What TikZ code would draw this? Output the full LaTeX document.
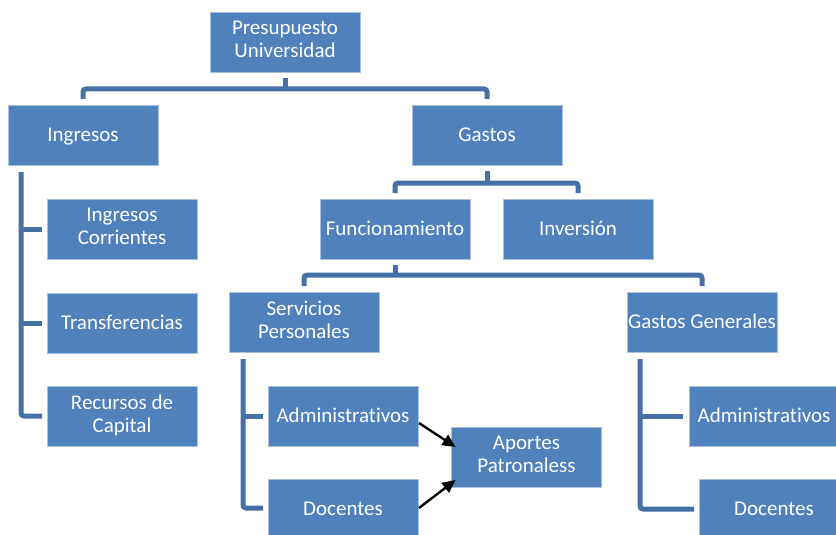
\documentclass[tikz,border=0pt]{standalone}
\usepackage{fontspec}
\setmainfont{Carlito}[Ligatures=NoCommon]
\usetikzlibrary{calc,arrows.meta}
\definecolor{boxblue}{HTML}{4F81BD}
\definecolor{boxedge}{HTML}{A9C1DF}
\definecolor{lineblue}{HTML}{4571A7}
\newcommand{\topstrut}{\rule{0pt}{18.5pt}}
\newcommand{\botstrut}{\rule[-5pt]{0pt}{5pt}}
\tikzset{
  bx/.style={rectangle, fill=boxblue, draw=boxedge, line width=0.8pt,
    minimum width=150pt, minimum height=60pt, inner sep=0pt, outer sep=0pt,
    text=white, align=center, font=\fontsize{21}{23.3}\selectfont,
    execute at begin node={\topstrut}, execute at end node={\botstrut}},
  conn/.style={draw=lineblue, line width=5pt, rounded corners=3pt},
  arr/.style={draw=black, line width=2.4pt, -{Triangle[length=13pt,width=12pt]}}
}
\begin{document}
\begin{tikzpicture}[x=1pt,y=-1pt]
\useasboundingbox (0,0) rectangle (836,535);
\fill[white] (0,0) rectangle (836,535);
\clip (0,0) rectangle (836,535);
% boxes
\node[bx] (pres) at (285,42) {Presupuesto\\Universidad};
\node[bx] (ing) at (83,135) {Ingresos};
\node[bx] (gas) at (487,135) {Gastos};
\node[bx] (ic) at (122,229) {Ingresos\\Corrientes};
\node[bx] (tr) at (122,323) {Transferencias};
\node[bx] (rc) at (122,416) {Recursos de\\Capital};
\node[bx] (fun) at (395,229) {Funcionamiento};
\node[bx] (inv) at (578,229) {Inversión};
\node[bx] (sp) at (304,322) {Servicios\\Personales};
\node[bx] (gg) at (702,322) {Gastos Generales};
\node[bx] (adm1) at (343,416) {Administrativos};
\node[bx] (doc1) at (343,509) {Docentes};
\node[bx] (ap) at (526.5,457) {Aportes\\Patronaless};
\node[bx] (adm2) at (764,416) {Administrativos};
\node[bx] (doc2) at (774,509) {Docentes};
% top bus
\coordinate (b1) at (285,89);
\draw[conn] ($(pres.south)+(0,6)$) -- (b1);
\draw[conn] ($(ing.north)+(0,-6)$) |- (b1) -| ($(gas.north)+(0,-6)$);
% gastos bus
\coordinate (b2) at (487,183);
\draw[conn] ($(gas.south)+(0,6)$) -- (b2);
\draw[conn] ($(fun.north)+(0,-6)$) |- (b2) -| ($(inv.north)+(0,-6)$);
% funcionamiento bus
\coordinate (b3) at (395,275);
\draw[conn] ($(fun.south)+(0,6)$) -- (b3);
\draw[conn] ($(sp.north)+(0,-6)$) |- (b3) -| ($(gg.north)+(0,-6)$);
% ingresos side bar
\coordinate (ib) at (21,172);
\draw[conn] (ib) |- ($(rc.west)+(-5,0)$);
\draw[conn] (ib |- ic.west) -- ($(ic.west)+(-5,0)$);
\draw[conn] (ib |- tr.west) -- ($(tr.west)+(-5,0)$);
% servicios side bar
\coordinate (sb) at (243,359);
\draw[conn] (sb) |- ($(doc1.west)+(-5,-1)$);
\draw[conn] (sb |- adm1.west) -- ($(adm1.west)+(-5,0)$);
% gastos generales side bar
\coordinate (gb) at (640,359);
\draw[conn] (gb) |- ($(doc2.west)+(-5,0)$);
\draw[conn] (gb |- adm2.west) -- ($(adm2.west)+(-6,0)$);
% arrows
\draw[arr] ($(adm1.east)+(1,7)$) -- ($(ap.west)+(4,-10)$);
\draw[arr] ($(doc1.east)+(1,-1)$) -- ($(ap.west)+(4,23)$);
\end{tikzpicture}
\end{document}
